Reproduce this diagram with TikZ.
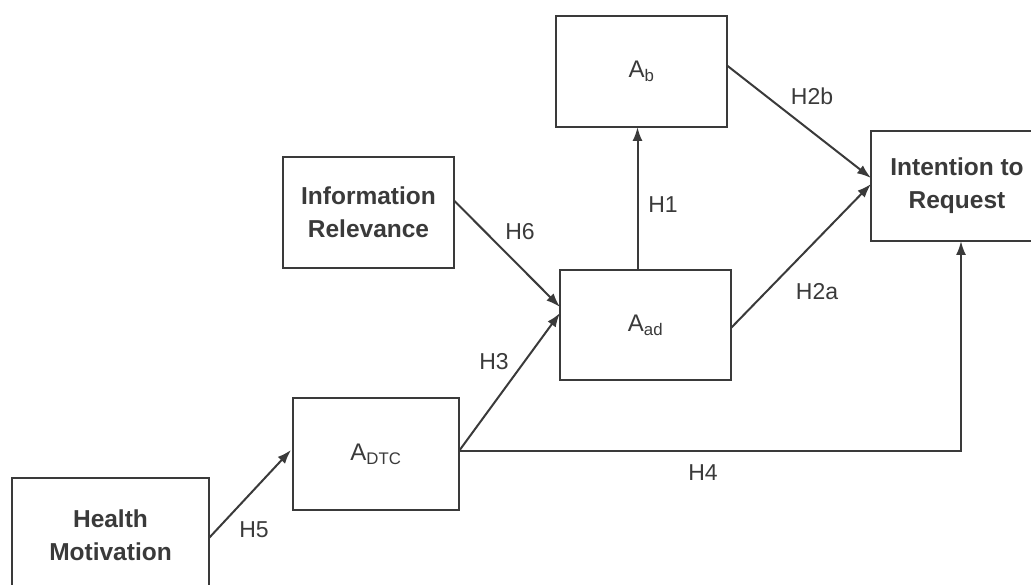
\documentclass[tikz,border=0pt]{standalone}
\usepackage{fontspec}
\setmainfont{Liberation Sans}
\usetikzlibrary{arrows.meta,calc}
\definecolor{ink}{HTML}{3A3A3A}
\begin{document}
\begin{tikzpicture}[x=1pt,y=-1pt,
  box/.style={draw=ink,line width=2pt,rectangle,inner sep=0pt,outer sep=0pt,
    minimum width=171pt,minimum height=111pt,align=center,text=ink},
  bold/.style={font=\fontsize{24.5}{33}\selectfont\bfseries},
  plain/.style={font=\fontsize{24}{28}\selectfont},
  lbl/.style={text=ink,font=\fontsize{23}{27}\selectfont,inner sep=0pt},
  link/.style={draw=ink,line width=2pt,-{Latex[length=14pt,width=10pt]}}]
\useasboundingbox (0,0) rectangle (1031,585);

% constructs
\node[box,plain] (ab)   at (641.5,71.5) {A\textsubscript{b}};
\node[box,bold]  (ir)   at (368.5,212.5) {Information\\Relevance};
\node[box,plain,minimum height=110pt] (aad) at (645.5,325) {A\textsubscript{ad}};
\node[box,plain,minimum width=166pt,minimum height=112pt] (adtc) at (376,454) {A\textsubscript{DTC}};
\node[box,bold,minimum width=197pt,minimum height=114pt] (hm) at (110.5,535) {Health\\Motivation};
\node[box,bold,minimum width=172pt,minimum height=110pt] (itr) at (957,186) {Intention to\\Request};

% paths between constructs
\draw[link] ($(hm.east)+(0,3)$) -- ($(adtc.west)+(-2,-4)$);
\draw[link] ($(adtc.east)+(0,-3)$) -- ($(aad.west)+(0,-12)$);
\draw[link] ($(ir.east)+(0,-12)$) -- ($(aad.west)+(0,-18)$);
\coordinate (h1s) at ($(aad.north)+(-8,0)$);
\draw[link] (h1s) -- (h1s |- ab.south);
\draw[link] ($(ab.east)+(0,-6)$) -- ($(itr.west)+(0,-8)$);
\draw[link] ($(aad.east)+(0,3)$) -- ($(itr.west)+(0,-2)$);
\coordinate (h4c) at ($(itr.south)+(4,0)$);
\draw[link] ($(adtc.east)+(0,-3)$) -| (h4c);

% hypothesis labels
\node[lbl] (h5)  at (254,530) {H5};
\node[lbl] (h3)  at (494,362) {H3};
\node[lbl] (h6)  at (520,232) {H6};
\node[lbl] (h1)  at (663,205) {H1};
\node[lbl] (h2b) at (812,96)  {H2b};
\node[lbl] (h2a) at (817,292) {H2a};
\node[lbl] (h4)  at (703,473) {H4};
\end{tikzpicture}
\end{document}
